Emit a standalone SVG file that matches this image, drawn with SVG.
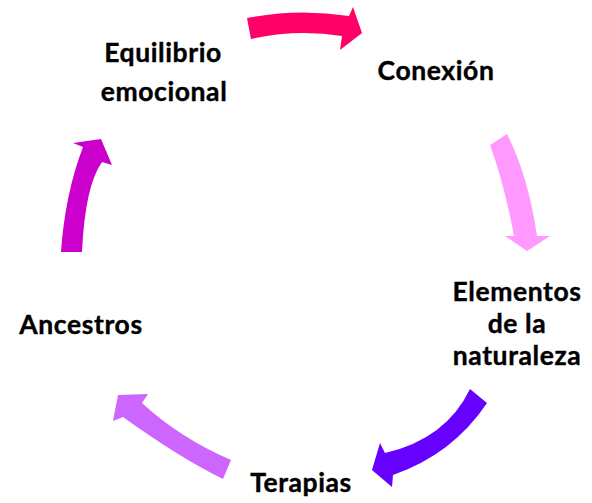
<svg xmlns="http://www.w3.org/2000/svg" width="592" height="503" viewBox="0 0 592 503">
<style>
.lbl{font-family:Lato,"Open Sans","Liberation Sans",sans-serif;font-weight:700;font-size:26.5px;letter-spacing:0.6px;fill:#000;text-anchor:middle;stroke:#000;stroke-width:0.4px}
</style>
<rect width="592" height="503" fill="#fff"/>
<g id="connectors">
<path id="a1" fill="#FF0066" d="M247,18 Q298,8 349,16 L353,7 L362,33 L340,50 L342,36 Q296,29 251,39 Z"/>
<path id="a2" fill="#FF99FF" d="M490,145 Q504,183 514,236 L505,236 L527,251 L550,236 L537,236 Q528,175 507,134 Z"/>
<path id="a3" fill="#6600FF" d="M470,389 Q446,439 385,453 L380,443 L372,470 L392,487 L393,475 Q453,454 487,403 Z"/>
<path id="a4" fill="#CC66FF" d="M231,460 Q180,438 142,403 L148,394 L118,395 L113,421 L123,417 Q180,458 223,479 Z"/>
<path id="a5" fill="#CC00CC" d="M61,252 Q65,194 83,147 L73,143 L101,139 L112,165 L102,162 Q85,186 82,252 Z"/>
</g>
<g id="n-equilibrio"><text class="lbl"><tspan x="163" y="62">Equilibrio</tspan><tspan x="164" y="101">emocional</tspan></text></g>
<g id="n-conexion"><text class="lbl" x="436" y="80">Conexión</text></g>
<g id="n-elementos"><text class="lbl"><tspan x="517" y="301">Elementos</tspan><tspan x="517" y="333">de la</tspan><tspan x="517" y="365">naturaleza</tspan></text></g>
<g id="n-terapias"><text class="lbl" x="301" y="492">Terapias</text></g>
<g id="n-ancestros"><text class="lbl" x="81" y="334">Ancestros</text></g>
</svg>
